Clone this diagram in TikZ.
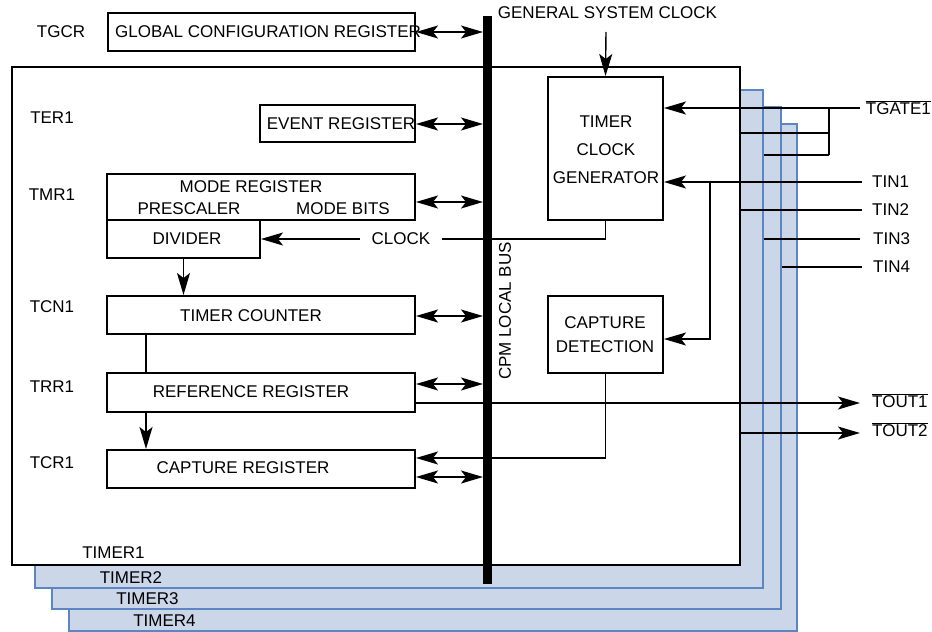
\documentclass[tikz,border=0pt]{standalone}
\usepackage{fontspec}
\setmainfont{Liberation Sans}
\usetikzlibrary{arrows.meta,calc}
\definecolor{tblue}{RGB}{91,134,195}
\definecolor{tfill}{RGB}{203,214,232}
\begin{document}
\begin{tikzpicture}[x=1pt,y=-1pt,
  every node/.style={font=\fontsize{17}{20}\selectfont, inner sep=0pt},
  box/.style={draw, line width=2pt, fill=white},
  timerbg/.style={draw=tblue, line width=2pt, fill=tfill},
  timerfg/.style={draw=black, line width=2pt, fill=white},
  conn/.style={line width=1.4pt},
  arr/.style={conn, -{Stealth[length=22pt,width=13pt,inset=5pt]}},
  dbl/.style={conn, {Stealth[length=22pt,width=13pt,inset=5pt]}-{Stealth[length=22pt,width=13pt,inset=5pt]}}
]
\useasboundingbox (0,0) rectangle (932,632);
% timer frames
\node[timerbg, minimum width=728pt, minimum height=507pt] (timer4) at (433,377.5) {};
\node[timerbg, minimum width=729pt, minimum height=502pt] (timer3) at (416.5,358) {};
\node[timerbg, minimum width=728pt, minimum height=498pt] (timer2) at (399,339) {};
\node[timerfg, minimum width=728pt, minimum height=498pt] (timer1) at (376,316) {};
\node (t1l) at (113.5,553) {TIMER1};
\node (t2l) at (131,578) {TIMER2};
\node (t3l) at (147.5,599) {TIMER3};
\node (t4l) at (164.5,621) {TIMER4};
% boxes
\node[box, minimum width=307pt, minimum height=38pt] (gcr) at (261.5,32) {};
\node (gcrt) at (268,32) {GLOBAL CONFIGURATION REGISTER};
\node[box, minimum width=155pt, minimum height=37pt] (evt) at (337.5,123.5) {};
\node (evtt) at (341,124) {EVENT REGISTER};
\node[box, minimum width=308pt, minimum height=46pt] (mode) at (261,197) {};
\node (modet) at (251,187) {MODE REGISTER};
\node (pres) at (189,209) {PRESCALER};
\node (mbits) at (343,209) {MODE BITS};
\node[box, minimum width=153pt, minimum height=38pt] (div) at (183.5,239) {};
\node (divt) at (187,239) {DIVIDER};
\node[box, minimum width=308pt, minimum height=38pt] (tcn) at (261,315) {};
\node (tcnt) at (251,316) {TIMER COUNTER};
\node[box, minimum width=308pt, minimum height=39pt] (ref) at (261,392.5) {};
\node (reft) at (251,392) {REFERENCE REGISTER};
\node[box, minimum width=308pt, minimum height=38pt] (cap) at (261,469) {};
\node (capt) at (243,468) {CAPTURE REGISTER};
\node[box, minimum width=115pt, minimum height=143pt] (tcg) at (605.5,148.5) {};
\node (tcg1) at (606,122) {TIMER};
\node (tcg2) at (606,150) {CLOCK};
\node (tcg3) at (606,178) {GENERATOR};
\node[box, minimum width=115pt, minimum height=77pt] (capd) at (605.5,334.5) {};
\node (capd1) at (605,323) {CAPTURE};
\node (capd2) at (605,347) {DETECTION};
% left labels
\node (lgcr) at (61,32) {TGCR};
\node (lter) at (52,118) {TER1};
\node (ltmr) at (52,195) {TMR1};
\node (ltcn) at (52,307) {TCN1};
\node (ltrr) at (52,387) {TRR1};
\node (ltcr) at (52,463) {TCR1};
% right labels
\node[anchor=east] (tgate) at (931,108) {$\overline{\hbox{TGATE1}}$};
\node[anchor=west] (tin1) at (872,182) {TIN1};
\node[anchor=west] (tin2) at (872,210) {TIN2};
\node[anchor=west] (tin3) at (873,239) {TIN3};
\node[anchor=west] (tin4) at (873,267) {TIN4};
\node[anchor=west] (tout1) at (872,401) {$\overline{\hbox{TOUT1}}$};
\node[anchor=west] (tout2) at (872,430) {$\overline{\hbox{TOUT2}}$};
\node (gsc) at (607.5,13) {GENERAL SYSTEM CLOCK};
\node[inner xsep=12pt] (clk) at (401,239) {CLOCK};
% coordinates
\coordinate (busl) at (483,0);
\coordinate (gscin) at (606,32);
\coordinate (tgin) at (860,108);
\coordinate (jx) at (829,108);
\coordinate (jb) at (829,155);
\coordinate (tin1in) at (862,182);
\coordinate (tin1j) at (710,182);
\coordinate (tout1e) at (860,403);
\coordinate (tout2e) at (860,433);
% connectors
\draw[dbl] (gcr.east) -- (busl |- gcr.east);
\draw[dbl] (evt.east |- 0,124) -- (busl |- 0,124);
\draw[dbl] (mode.east |- 0,202) -- (busl |- 0,202);
\draw[dbl] (tcn.east |- 0,316) -- (busl |- 0,316);
\draw[dbl] (ref.east |- 0,384) -- (busl |- 0,384);
\draw[dbl] (cap.east |- 0,477) -- (busl |- 0,477);
\draw[arr] (capd.south) |- (cap.east |- 0,458);
\draw[arr] (ref.east |- tout1e) -- (tout1e);
\draw[arr] (timer1.east |- tout2e) -- (tout2e);
\draw[conn] (tcg.south) |- (clk.east);
\draw[arr] (clk.west) -- (div.east |- clk.west);
\draw[arr] (div.south) -- (div.south |- tcn.north);
\draw[conn] (tcn.south -| 146,0) -- (ref.north -| 146,0);
\draw[arr] (ref.south -| 146,0) -- (cap.north -| 146,0);
\draw[arr] (gscin) -- (tcg.north);
\draw[arr] (tgin) -- (tcg.east |- tgin);
\draw[conn] (jx) -- (jb);
\draw[conn] (timer1.east |- 0,133) -- (jx |- 0,133);
\draw[conn] (timer2.east |- jb) -- (jb);
\draw[arr] (tin1in) -- (tcg.east |- tin1in);
\draw[arr] (tin1j) |- (capd.east |- 0,339);
\draw[conn] (timer1.east |- 0,210) -- (862,210);
\draw[conn] (timer2.east |- 0,239) -- (860,239);
\draw[conn] (timer3.east |- 0,267) -- (862,267);
% bus
\node[fill=black, minimum width=9pt, minimum height=568pt] (bus) at (487.5,300) {};
\node[rotate=90] (busl2) at (505,311) {CPM LOCAL BUS};
\end{tikzpicture}
\end{document}
